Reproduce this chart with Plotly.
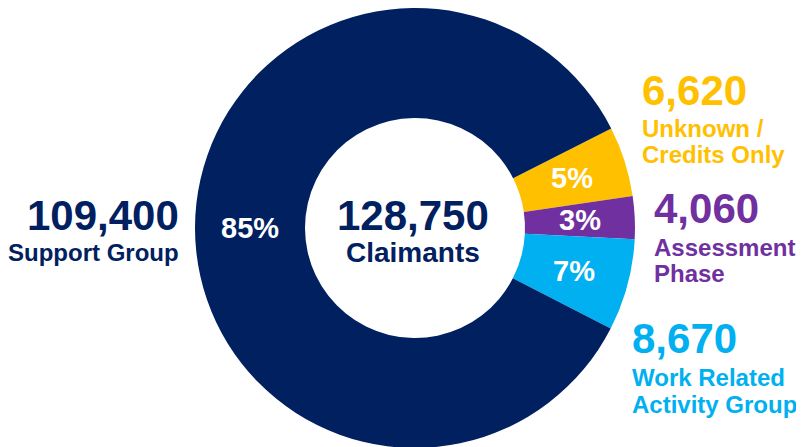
import math
import plotly.graph_objects as go

W, H = 804, 447

# Data
categories = ["Unknown / Credits Only", "Assessment Phase", "Work Related Activity Group", "Support Group"]
label_lines = [["Unknown /", "Credits Only"], ["Assessment", "Phase"], ["Work Related", "Activity Group"], ["Support Group"]]
values = [6620, 4060, 8670, 109400]
colors = ["#FFC000", "#7030A0", "#00B0F0", "#002060"]
total_label = "Claimants"

FONT = "Liberation Sans, Arial, sans-serif"

# pie geometry (figure pixels)
CX, CY, R = 407, 220, 220
HOLE = 0.5
ROT = 63.1  # clockwise from 12 o'clock

fig = go.Figure()
fig.add_trace(go.Pie(
    labels=categories,
    values=values,
    sort=False,
    direction="clockwise",
    rotation=ROT,
    hole=HOLE,
    marker=dict(colors=colors, line=dict(width=0)),
    textinfo="none",
    showlegend=False,
    hoverinfo="label+value+percent",
    domain=dict(x=[(CX - R) / W, (CX + R) / W], y=[(H - CY - R) / H, (H - CY + R) / H]),
))


def px(x):
    return x / W


def py(y):
    return 1 - y / H


annotations = []
total = sum(values)

# percentage labels at the ring middle of each slice
r_mid = R * (1 + HOLE) / 2
cum = 0
for v in values:
    mid = (90 - ROT) - (cum + v / 2) / total * 360
    cum += v
    ax = CX + r_mid * math.cos(math.radians(mid))
    ay = CY - r_mid * math.sin(math.radians(mid))
    annotations.append(dict(x=px(ax), y=py(ay), text=f"{round(v / total * 100)}%", showarrow=False,
                            xanchor="center", yanchor="middle",
                            font=dict(family=FONT, size=29, color="white", weight="bold")))

annotations.append(dict(x=px(405), y=py(207), text=f"{total:,}", showarrow=False,
                        xanchor="center", yanchor="middle",
                        font=dict(family=FONT, size=42, color="#002060", weight="bold")))
annotations.append(dict(x=px(405), y=py(244), text=total_label, showarrow=False,
                        xanchor="center", yanchor="middle",
                        font=dict(family=FONT, size=28, color="#002060", weight="bold")))

# outside label layout: (x, anchor, number-center-y, line-center-ys)
layout_pos = [
    (633, "left", 82, [120, 146]),
    (645, "left", 200, [239, 265]),
    (623, "left", 330, [369, 396]),
    (172, "right", 207, [245]),
]
for v, lines, c, (x, anc, ny, lys) in zip(values, label_lines, colors, layout_pos):
    annotations.append(dict(x=px(x), y=py(ny), text=f"{v:,}", showarrow=False,
                            xanchor=anc, yanchor="middle", borderpad=0,
                            font=dict(family=FONT, size=42, color=c, weight="bold")))
    for line, ly in zip(lines, lys):
        annotations.append(dict(x=px(x), y=py(ly), text=line, showarrow=False,
                                xanchor=anc, yanchor="middle", borderpad=0,
                                font=dict(family=FONT, size=24, color=c, weight="bold")))

fig.update_layout(
    width=W, height=H,
    margin=dict(l=0, r=0, t=0, b=0),
    paper_bgcolor="white",
    plot_bgcolor="white",
    annotations=annotations,
)

fig.write_html("out.html")
